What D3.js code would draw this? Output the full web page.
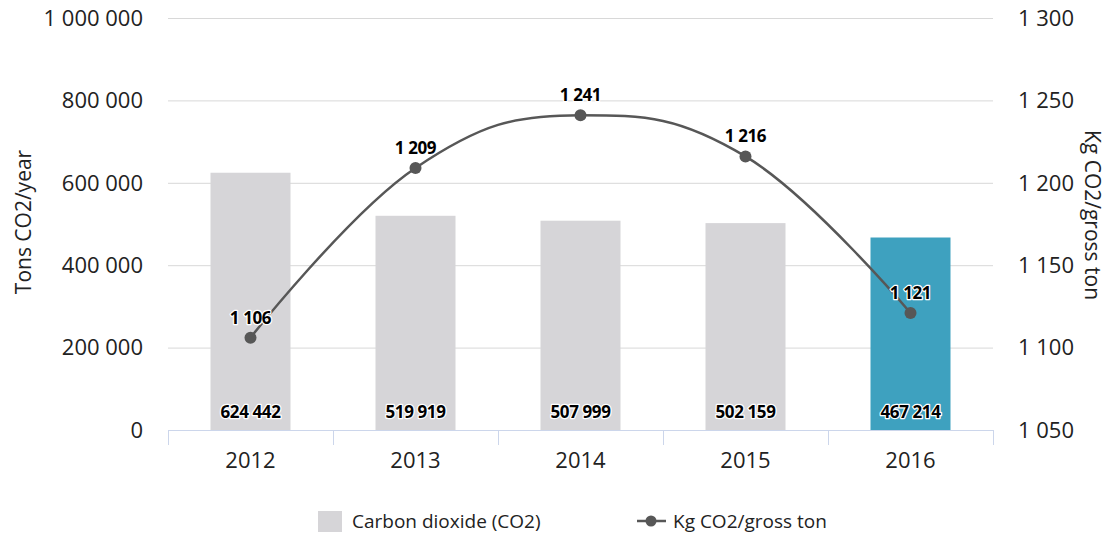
<!DOCTYPE html>
<html>
<head>
<meta charset="utf-8">
<script src="https://cdn.jsdelivr.net/npm/d3@7"></script>
<style>
  html, body { margin: 0; padding: 0; background: #fff; }
  svg { display: block; font-family: "Open Sans", "Noto Sans", sans-serif; }
</style>
</head>
<body>
<svg id="chart" width="1112" height="539"></svg>
<script>
// Annual CO2 emissions and specific emissions per gross ton
const years = ["2012", "2013", "2014", "2015", "2016"];
const co2Tons = [624442, 519919, 507999, 502159, 467214];
const kgPerTon = [1106, 1209, 1241, 1216, 1121];
const leftTicks = [0, 200000, 400000, 600000, 800000, 1000000];
const rightTicks = [1050, 1100, 1150, 1200, 1250, 1300];
const barColors = ["#d6d5d8", "#d6d5d8", "#d6d5d8", "#d6d5d8", "#3ea1bf"];

const svg = d3.select("#chart");
const plot = { left: 168, right: 993, top: 18, bottom: 430 };

const fmt = v => d3.format(",")(v).replace(/,/g, " ");

const x = d3.scaleBand().domain(years).range([plot.left, plot.right]).padding(0);
const yL = d3.scaleLinear().domain([0, 1000000]).range([plot.bottom, plot.top]);
const yR = d3.scaleLinear().domain([1050, 1300]).range([plot.bottom, plot.top]);

// gridlines
svg.append("g").selectAll("line").data(leftTicks.slice(1)).join("line")
  .attr("x1", plot.left).attr("x2", plot.right)
  .attr("y1", d => yL(d) + 0.5).attr("y2", d => yL(d) + 0.5)
  .attr("stroke", "#d8d8d8").attr("stroke-width", 1);

// left axis labels
svg.append("g").selectAll("text").data(leftTicks).join("text")
  .attr("x", 143).attr("y", d => yL(d)).attr("dy", "0.35em")
  .attr("text-anchor", "end").attr("font-size", 22).attr("fill", "#222")
  .text(fmt);

// right axis labels
svg.append("g").selectAll("text").data(rightTicks).join("text")
  .attr("x", 1018).attr("y", d => yR(d)).attr("dy", "0.35em")
  .attr("text-anchor", "start").attr("font-size", 22).attr("fill", "#222")
  .text(fmt);

// axis titles
svg.append("text")
  .attr("transform", "translate(31,222) rotate(-90)")
  .attr("text-anchor", "middle").attr("font-size", 21).attr("fill", "#222")
  .text("Tons CO2/year");
svg.append("text")
  .attr("transform", "translate(1085,215) rotate(90)")
  .attr("text-anchor", "middle").attr("font-size", 21).attr("fill", "#222")
  .text("Kg CO2/gross ton");

// bars
const barW = 80;
svg.append("g").selectAll("rect").data(years).join("rect")
  .attr("x", d => x(d) + x.bandwidth() / 2 - barW / 2)
  .attr("width", barW)
  .attr("y", (d, i) => yL(co2Tons[i]))
  .attr("height", (d, i) => yL(0) - yL(co2Tons[i]))
  .attr("fill", (d, i) => barColors[i]);

// x axis line and ticks
const xAxis = svg.append("g").attr("stroke", "#ccd6eb").attr("stroke-width", 1);
xAxis.append("line").attr("x1", plot.left).attr("x2", plot.right)
  .attr("y1", plot.bottom + 0.5).attr("y2", plot.bottom + 0.5);
const tickXs = years.map(d => x(d)).concat([x(years[years.length - 1]) + x.bandwidth()]);
xAxis.selectAll("line.tick").data(tickXs).join("line").attr("class", "tick")
  .attr("x1", d => Math.round(d) + 0.5).attr("x2", d => Math.round(d) + 0.5)
  .attr("y1", plot.bottom).attr("y2", plot.bottom + 15);

svg.append("g").selectAll("text").data(years).join("text")
  .attr("x", d => x(d) + x.bandwidth() / 2).attr("y", 468)
  .attr("text-anchor", "middle").attr("font-size", 22).attr("fill", "#222")
  .text(d => d);

// spline path (smoothing as in a classic charting spline)
const pts = years.map((d, i) => ({ px: x(d) + x.bandwidth() / 2, py: yR(kgPerTon[i]) }));
function splinePath(points) {
  const smoothing = 1.5, denom = smoothing + 1;
  const p = d3.path();
  points.forEach((pt, i) => {
    const last = points[i - 1], next = points[i + 1];
    let lcx, lcy, rcx, rcy;
    if (last && next) {
      lcx = (smoothing * pt.px + last.px) / denom;
      lcy = (smoothing * pt.py + last.py) / denom;
      rcx = (smoothing * pt.px + next.px) / denom;
      rcy = (smoothing * pt.py + next.py) / denom;
      let corr = 0;
      if (rcx !== lcx) corr = ((rcy - lcy) * (rcx - pt.px)) / (rcx - lcx) + pt.py - rcy;
      lcy += corr; rcy += corr;
      if (lcy > last.py && lcy > pt.py) { lcy = Math.max(last.py, pt.py); rcy = 2 * pt.py - lcy; }
      else if (lcy < last.py && lcy < pt.py) { lcy = Math.min(last.py, pt.py); rcy = 2 * pt.py - lcy; }
      if (rcy > next.py && rcy > pt.py) { rcy = Math.max(next.py, pt.py); lcy = 2 * pt.py - rcy; }
      else if (rcy < next.py && rcy < pt.py) { rcy = Math.min(next.py, pt.py); lcy = 2 * pt.py - rcy; }
      pt.rcx = rcx; pt.rcy = rcy;
    }
    if (i === 0) p.moveTo(pt.px, pt.py);
    else p.bezierCurveTo(
      last.rcx ?? last.px, last.rcy ?? last.py,
      lcx ?? pt.px, lcy ?? pt.py,
      pt.px, pt.py);
  });
  return p.toString();
}
svg.append("path").attr("d", splinePath(pts))
  .attr("fill", "none").attr("stroke", "#575757").attr("stroke-width", 2.5);
svg.append("g").selectAll("circle").data(pts).join("circle")
  .attr("cx", d => d.px).attr("cy", d => d.py).attr("r", 6).attr("fill", "#575757");

// data labels with white halo
function labels(sel) {
  sel.attr("text-anchor", "middle").attr("font-size", 17).attr("font-weight", 700)
    .attr("fill", "#000").attr("stroke", "#fff").attr("stroke-width", 2.5)
    .attr("stroke-linejoin", "round").attr("paint-order", "stroke")
    .attr("letter-spacing", "-0.4px");
}
svg.append("g").selectAll("text").data(years).join("text")
  .call(labels)
  .attr("x", d => x(d) + x.bandwidth() / 2).attr("y", 418)
  .text((d, i) => fmt(co2Tons[i]));
svg.append("g").selectAll("text").data(years).join("text")
  .call(labels)
  .attr("x", d => x(d) + x.bandwidth() / 2).attr("y", (d, i) => yR(kgPerTon[i]) - 14)
  .text((d, i) => fmt(kgPerTon[i]));

// legend
const lg = svg.append("g");
lg.append("rect").attr("x", 318).attr("y", 511).attr("width", 24).attr("height", 21).attr("fill", barColors[0]);
lg.append("text").attr("x", 352).attr("y", 528).attr("font-size", 19).attr("fill", "#222").text("Carbon dioxide (CO2)");
lg.append("line").attr("x1", 637).attr("x2", 666).attr("y1", 521).attr("y2", 521)
  .attr("stroke", "#575757").attr("stroke-width", 2.5);
lg.append("circle").attr("cx", 651).attr("cy", 521).attr("r", 5.5).attr("fill", "#575757");
lg.append("text").attr("x", 673).attr("y", 528).attr("font-size", 19).attr("fill", "#222").text("Kg CO2/gross ton");
</script>
</body>
</html>
